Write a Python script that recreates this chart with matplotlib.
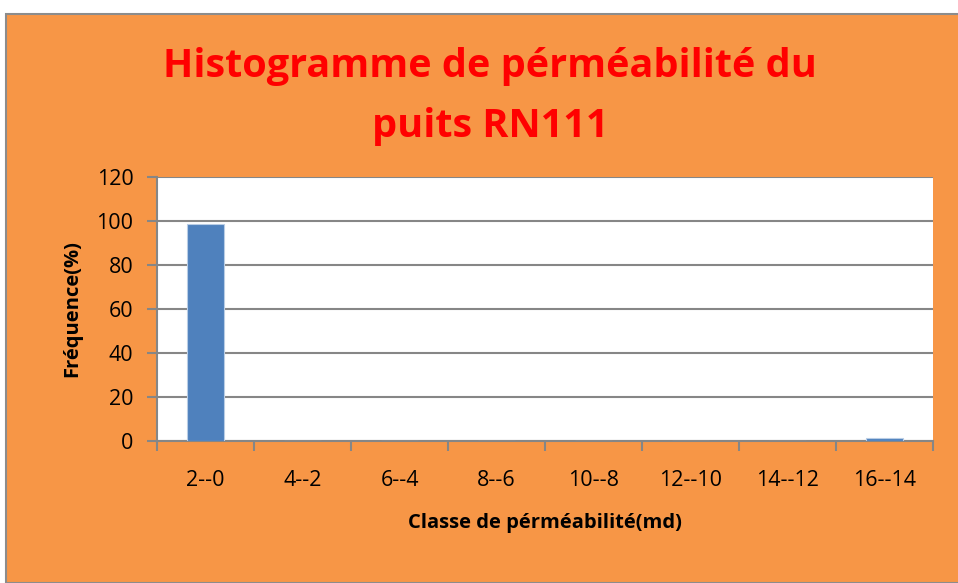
import matplotlib.pyplot as plt
import numpy as np
from matplotlib.patches import Rectangle

# data
classes = ['2--0', '4--2', '6--4', '8--6', '10--8', '12--10', '14--12', '16--14']
freq = [98.6, 0, 0, 0, 0, 0, 0, 1.3]
yticks = [0, 20, 40, 60, 80, 100, 120]

orange = '#F79646'
bar_color = '#4F81BD'
grid_gray = '#868686'

plt.rcParams['font.family'] = ['Open Sans', 'DejaVu Sans']

fig = plt.figure(figsize=(9.58, 5.83), dpi=100)
fig.patch.set_facecolor('white')

# orange chart area with grey border
W, H = 958, 583
bg = Rectangle((6 / W, 0), 1.0, 1 - 14 / H, transform=fig.transFigure,
               facecolor=orange, edgecolor='#8C8C8C', linewidth=1.5, zorder=-10)
fig.patches.append(bg)

ax = fig.add_axes([157 / W, 1 - 441 / H, (933 - 157) / W, (441 - 177) / H])
ax.set_zorder(5)
ax.set_facecolor('white')

x = np.arange(len(classes))
ax.bar(x, freq, width=0.39, color=bar_color, edgecolor='#B9CDE5', linewidth=0.8, zorder=3)

ax.set_xlim(-0.5, len(classes) - 0.5)
ax.set_ylim(0, 120)
ax.set_yticks(yticks)
ax.set_yticklabels([str(v) for v in yticks], fontsize=15.5)
ax.yaxis.grid(True, color=grid_gray, linewidth=1.5, zorder=0)
ax.set_axisbelow(True)

ax.set_xticks(x)
ax.set_xticklabels(classes, fontsize=15.5)
ax.set_xticks(np.arange(-0.5, len(classes)), minor=True)
ax.tick_params(axis='x', which='major', length=0, pad=21)
ax.tick_params(axis='x', which='minor', length=7, width=1.5, color=grid_gray)
ax.tick_params(axis='y', length=7, width=1.5, color=grid_gray, pad=10)

for s in ['top', 'right']:
    ax.spines[s].set_visible(False)
for s in ['left', 'bottom']:
    ax.spines[s].set_color(grid_gray)
    ax.spines[s].set_linewidth(1.5)

ax.set_xlabel('Classe de pérméabilité(md)', fontsize=14.5, fontweight='bold', labelpad=16)
ax.set_ylabel('Fréquence(%)', fontsize=14.5, fontweight='bold', labelpad=10)

fig.text(490 / W, 1 - 66 / H, 'Histogramme de pérméabilité du', ha='center', va='center',
         fontsize=28.5, fontweight='bold', color='#FF0000')
fig.text(490 / W, 1 - 126 / H, 'puits RN111', ha='center', va='center',
         fontsize=28.5, fontweight='bold', color='#FF0000')

fig.savefig('out.png', dpi=100, facecolor=fig.get_facecolor())
